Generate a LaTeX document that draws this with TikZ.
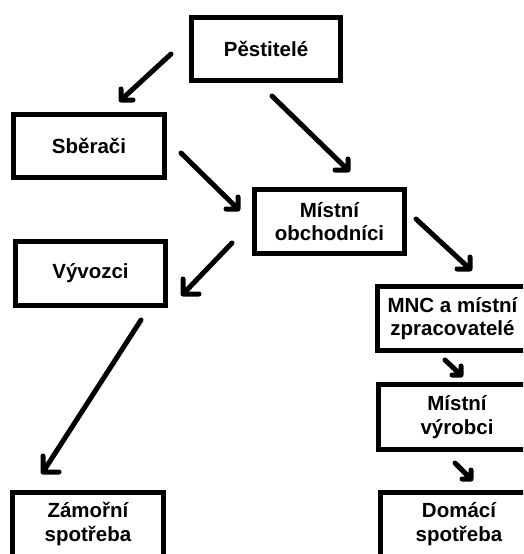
\documentclass[tikz,border=0pt]{standalone}
\usepackage{fontspec}
\setmainfont{Liberation Sans}
\usetikzlibrary{calc}
\tikzset{
  box/.style={draw=black, line width=5pt, fill=white, align=center, inner sep=0pt,
    minimum width=150pt, minimum height=64pt,
    font=\fontsize{20.5}{23.5}\selectfont\bfseries},
  arr/.style={draw=black, line width=5pt, line cap=round, line join=round}
}
\begin{document}
\begin{tikzpicture}[x=1pt,y=-1pt]
\useasboundingbox (0,0) rectangle (523,554);
\clip (0,0) rectangle (523,554);
\fill[white] (0,0) rectangle (523,554);

% boxes
\node[box, minimum width=149pt, minimum height=63pt] (p)  at (266,49)   {Pěstitelé};
\node[box, minimum width=151pt, minimum height=63pt] (sb) at (89,146)   {Sběrači};
\node[box] (mo)  at (329.5,221.5) {Místní\\obchodníci};
\node[box] (vy)  at (90.5,273.5)  {Vývozci};
\node[box] (mnc) at (452.5,318.5) {MNC a místní\\zpracovatelé};
\node[box, minimum width=157pt, minimum height=65pt] (mv) at (457,417) {Místní\\výrobci};
\node[box, minimum width=157pt] (ds) at (459,524) {Domácí\\spotřeba};
\node[box, minimum width=151pt] (zs) at (88,524) {Zámořní\\spotřeba};

% arrow end points
\coordinate (a1s) at (171,54);   \coordinate (a1e) at (121,100);
\coordinate (a2s) at (272,96);   \coordinate (a2e) at (348,170);
\coordinate (a3s) at (181,153);  \coordinate (a3e) at (238,209);
\coordinate (a4s) at (232,243);  \coordinate (a4e) at (183,294);
\coordinate (a5s) at (416,219);  \coordinate (a5e) at (470,269);
\coordinate (a6s) at (141,320);  \coordinate (a6e) at (43,472);
\coordinate (a7s) at (445,360);  \coordinate (a7e) at (461,375);
\coordinate (a8s) at (455,463);  \coordinate (a8e) at (471,479);

% Pěstitelé -> Sběrači
\draw[arr] (a1s) -- (a1e) ++(0,-11) -- (a1e) -- ++(12,0);
% Pěstitelé -> Místní obchodníci
\draw[arr] (a2s) -- (a2e) ++(0,-11) -- (a2e) -- ++(-13,0);
% Sběrači -> Místní obchodníci
\draw[arr] (a3s) -- (a3e) ++(0,-12) -- (a3e) -- ++(-12,0);
% Místní obchodníci -> Vývozci
\draw[arr] (a4s) -- (a4e) ++(0,-15) -- (a4e) -- ++(16,0);
% Místní obchodníci -> MNC
\draw[arr] (a5s) -- (a5e) ++(0,-12) -- (a5e) -- ++(-13,0);
% Vývozci -> Zámořní spotřeba
\draw[arr] (a6s) -- (a6e) ++(0,-16) -- (a6e) -- ++(16,0);
% MNC -> Místní výrobci
\draw[arr] (a7s) -- (a7e) ++(0,-9) -- (a7e) -- ++(-9,0);
% Místní výrobci -> Domácí spotřeba
\draw[arr] (a8s) -- (a8e) ++(0,-9) -- (a8e) -- ++(-9,0);
\end{tikzpicture}
\end{document}
